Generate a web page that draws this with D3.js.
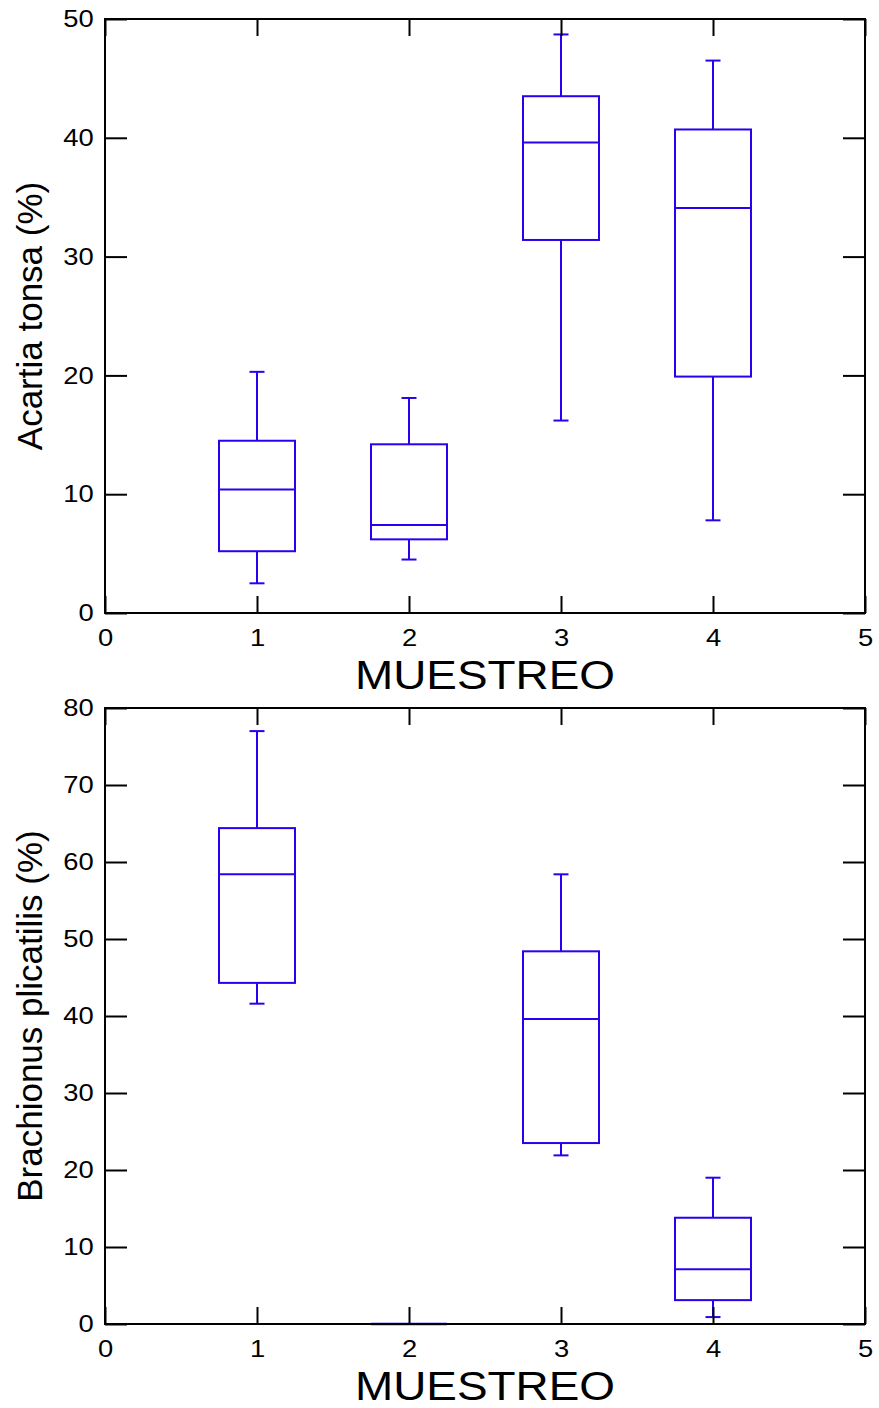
<!DOCTYPE html>
<html><head><meta charset="utf-8">
<script src="https://cdn.jsdelivr.net/npm/d3@7"></script>
<style>body{margin:0;background:#fff}svg{display:block}text{font-family:"Liberation Sans",Arial,sans-serif;fill:#000}</style>
</head><body>
<svg id="c" width="879" height="1408"></svg>
<script>
const categories = [1, 2, 3, 4];
const xTicks = [0, 1, 2, 3, 4, 5];
// Acartia tonsa (%)
const acartiaWhiskerLow = [2.5, 4.5, 16.2, 7.8];
const acartiaQ1 = [5.2, 6.2, 31.4, 19.9];
const acartiaMedian = [10.4, 7.4, 39.6, 34.1];
const acartiaQ3 = [14.5, 14.2, 43.5, 40.7];
const acartiaWhiskerHigh = [20.3, 18.1, 48.7, 46.5];
const acartiaTicks = [0, 10, 20, 30, 40, 50];
// Brachionus plicatilis (%)
const brachWhiskerLow = [41.6, 0, 21.9, 0.9];
const brachQ1 = [44.3, 0, 23.5, 3.1];
const brachMedian = [58.4, 0, 39.6, 7.1];
const brachQ3 = [64.4, 0, 48.4, 13.8];
const brachWhiskerHigh = [77.0, 0, 58.4, 19.0];
const brachTicks = [0, 10, 20, 30, 40, 50, 60, 70, 80];

const svg = d3.select("#c");
const blue = "#2a00ee";
const stretch = 1.14;

function panel(cfg) {
  const x = d3.scaleLinear().domain([0, 5]).range([105, 865]);
  const y = d3.scaleLinear().domain([0, cfg.ymax]).range([cfg.bottom, cfg.top]);
  const g = svg.append("g");
  const data = categories.map((c, i) => ({c, lo: cfg.lo[i], q1: cfg.q1[i], med: cfg.med[i], q3: cfg.q3[i], hi: cfg.hi[i]}));
  const bw = x(0.25) - x(0);
  const cap = 7.5;
  const bg = g.append("g").attr("stroke", blue).attr("stroke-width", 2).attr("fill", "none");
  data.forEach(d => {
    const cx = x(d.c);
    if (d.hi === d.lo) {
      bg.append("line").attr("x1", cx - bw).attr("x2", cx + bw).attr("y1", y(d.med)).attr("y2", y(d.med)).attr("stroke-width", 2.5);
      return;
    }
    bg.append("line").attr("x1", cx).attr("x2", cx).attr("y1", y(d.q3)).attr("y2", y(d.hi));
    bg.append("line").attr("x1", cx).attr("x2", cx).attr("y1", y(d.q1)).attr("y2", y(d.lo));
    bg.append("line").attr("x1", cx - cap).attr("x2", cx + cap).attr("y1", y(d.hi)).attr("y2", y(d.hi));
    bg.append("line").attr("x1", cx - cap).attr("x2", cx + cap).attr("y1", y(d.lo)).attr("y2", y(d.lo));
    bg.append("rect").attr("x", cx - bw).attr("width", 2 * bw).attr("y", y(d.q3)).attr("height", y(d.q1) - y(d.q3));
    bg.append("line").attr("x1", cx - bw).attr("x2", cx + bw).attr("y1", y(d.med)).attr("y2", y(d.med));
  });
  // frame
  g.append("rect").attr("x", x(0)).attr("y", y(cfg.ymax)).attr("width", x(5) - x(0)).attr("height", y(0) - y(cfg.ymax))
    .attr("fill", "none").attr("stroke", "#000").attr("stroke-width", 2);
  // axes with inward ticks
  const axB = d3.axisBottom(x).tickValues(xTicks).tickSize(-17).tickFormat(d3.format("d")).tickPadding(16);
  const axT = d3.axisTop(x).tickValues(xTicks).tickSize(-17).tickFormat(() => null);
  const axL = d3.axisLeft(y).tickValues(cfg.ticks).tickSize(-22).tickFormat(d3.format("d")).tickPadding(10);
  const axR = d3.axisRight(y).tickValues(cfg.ticks).tickSize(-22).tickFormat(() => null);
  [[axB, `translate(0,${y(0)})`], [axT, `translate(0,${y(cfg.ymax)})`], [axL, `translate(${x(0)},0)`], [axR, `translate(${x(5)},0)`]].forEach(([a, t]) => {
    const ag = g.append("g").attr("transform", t).call(a);
    ag.select(".domain").remove();
    ag.selectAll("line").attr("stroke", "#000").attr("stroke-width", 2);
    ag.selectAll("text").filter(function() { return !this.textContent; }).remove();
    ag.selectAll("text").attr("font-size", 24).attr("font-family", '"Liberation Sans",Arial,sans-serif').attr("fill", "#000")
      .attr("transform", `scale(${stretch},1)`);
  });
  g.append("text").attr("transform", `translate(485,${cfg.bottom + 76}) scale(1.12,1)`).attr("text-anchor", "middle").attr("font-size", 41).text("MUESTREO");
  g.append("text").attr("transform", `translate(42,${(cfg.top + cfg.bottom) / 2}) rotate(-90)`).attr("text-anchor", "middle").attr("font-size", 35).text(cfg.title);
}

panel({top: 19, bottom: 613, ymax: 50, ticks: acartiaTicks, title: "Acartia tonsa (%)",
  lo: acartiaWhiskerLow, q1: acartiaQ1, med: acartiaMedian, q3: acartiaQ3, hi: acartiaWhiskerHigh});
panel({top: 708, bottom: 1324, ymax: 80, ticks: brachTicks, title: "Brachionus plicatilis (%)",
  lo: brachWhiskerLow, q1: brachQ1, med: brachMedian, q3: brachQ3, hi: brachWhiskerHigh});
</script>
</body></html>
